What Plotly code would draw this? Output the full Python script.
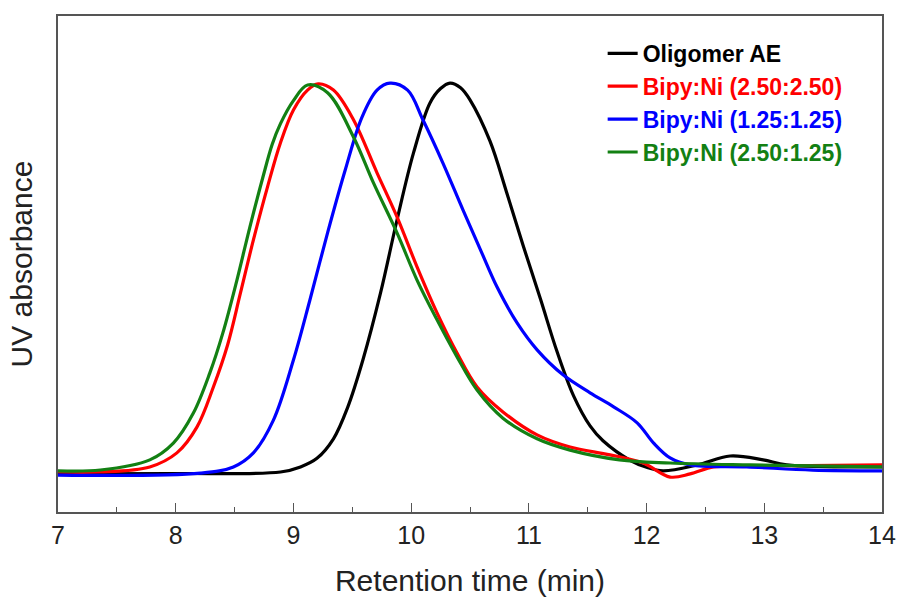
import plotly.graph_objects as go

# Retention time (min) and normalized UV absorbance
t_black = [7.0, 8.0, 8.89, 9.06, 9.20, 9.34, 9.46, 9.59, 9.74, 9.88, 10.02, 10.16, 10.25, 10.33,
           10.42, 10.50, 10.67, 10.81, 10.95, 11.10, 11.24, 11.38, 11.52, 11.63, 11.86, 12.0, 12.14,
           12.43, 12.71, 12.99, 13.19, 14.0]
a_black = [-0.005, -0.004, 0.0, 0.013, 0.035, 0.085, 0.165, 0.287, 0.459, 0.646, 0.818, 0.946,
           0.983, 0.997, 0.985, 0.954, 0.848, 0.718, 0.582, 0.442, 0.308, 0.195, 0.118, 0.080,
           0.030, 0.012, 0.003, 0.018, 0.041, 0.031, 0.018, 0.013]

t_red = [7.0, 7.36, 7.78, 8.01, 8.18, 8.32, 8.44, 8.55, 8.66, 8.78, 8.89, 9.00, 9.12, 9.21, 9.34, 9.51,
         9.71, 9.88, 10.05, 10.22, 10.39, 10.56, 10.78, 11.07, 11.35, 11.69, 11.97, 12.20, 12.37, 12.57,
         12.85, 14.0]
a_red = [0.0, 0.0, 0.013, 0.049, 0.115, 0.218, 0.325, 0.459, 0.595, 0.731, 0.844, 0.928, 0.979, 0.995,
         0.979, 0.903, 0.767, 0.654, 0.526, 0.408, 0.305, 0.218, 0.154, 0.095, 0.064, 0.044, 0.023, -0.013,
         -0.005, 0.013, 0.015, 0.018]

t_blue = [7.0, 8.21, 8.49, 8.66, 8.83, 9.00, 9.14, 9.29, 9.44, 9.58, 9.71, 9.82, 9.97, 10.10, 10.27,
          10.44, 10.59, 10.73, 10.90, 11.07, 11.29, 11.52, 11.72, 11.92, 12.06, 12.20, 12.37, 12.85,
          13.41, 14.0]
a_blue = [-0.008, -0.003, 0.013, 0.049, 0.133, 0.287, 0.441, 0.613, 0.774, 0.908, 0.979, 0.997, 0.979,
          0.903, 0.792, 0.672, 0.569, 0.474, 0.382, 0.313, 0.249, 0.203, 0.167, 0.126, 0.074, 0.036,
          0.018, 0.013, 0.005, 0.003]

t_green = [7.0, 7.36, 7.78, 7.98, 8.15, 8.29, 8.40, 8.52, 8.63, 8.74, 8.82, 8.89, 9.00, 9.12, 9.29,
           9.51, 9.68, 9.88, 10.05, 10.22, 10.39, 10.56, 10.78, 11.07, 11.35, 11.77, 12.20, 12.88, 14.0]
a_green = [0.003, 0.005, 0.031, 0.074, 0.151, 0.254, 0.356, 0.492, 0.628, 0.755, 0.840, 0.893, 0.952,
           0.992, 0.972, 0.859, 0.741, 0.613, 0.492, 0.390, 0.295, 0.210, 0.138, 0.085, 0.056,
           0.031, 0.023, 0.018, 0.013]

names = ["Oligomer AE", "Bipy:Ni (2.50:2.50)", "Bipy:Ni (1.25:1.25)", "Bipy:Ni (2.50:1.25)"]
colors = ["#000000", "#ff0000", "#0000ff", "#138013"]
series = [(t_black, a_black), (t_red, a_red), (t_blue, a_blue), (t_green, a_green)]
x_ticks = [7, 8, 9, 10, 11, 12, 13, 14]

fig = go.Figure()
for (tx, ay), nm, col in zip(series, names, colors):
    fig.add_trace(go.Scatter(
        x=tx, y=ay, mode="lines",
        name=f'<b><span style="color:{col}">{nm}</span></b>',
        line=dict(color=col, width=3.2, shape="spline", smoothing=1.0),
    ))

axis_col = "#555555"
fig.update_layout(
    width=898, height=597,
    margin=dict(l=58, r=16, t=16, b=85),
    paper_bgcolor="white", plot_bgcolor="white",
    font=dict(family="Arial, Liberation Sans, sans-serif", color="#222222"),
    showlegend=True,
    legend=dict(x=0.661, y=0.968, xanchor="left", yanchor="top",
                font=dict(size=23, family="Arial, Liberation Sans, sans-serif"),
                bgcolor="rgba(0,0,0,0)", itemwidth=30),
    xaxis=dict(range=[7, 14], tickvals=x_ticks, ticktext=[str(v) for v in x_ticks],
               ticks="inside", ticklen=9, tickwidth=1.2, tickcolor=axis_col,
               minor=dict(dtick=0.5, ticks="inside", ticklen=5, tickwidth=1.2, tickcolor=axis_col),
               showline=True, linecolor=axis_col, linewidth=1.5, mirror=True,
               showgrid=False, zeroline=False, automargin=False,
               tickfont=dict(size=25, color="#222222"),
               title=dict(text="Retention time (min)", font=dict(size=30, color="#222222"), standoff=22)),
    yaxis=dict(range=[-0.1026, 1.169], showticklabels=False, ticks="",
               showline=True, linecolor=axis_col, linewidth=1.5, mirror=True,
               showgrid=False, zeroline=False, automargin=False,
               title=dict(text="UV absorbance", font=dict(size=30, color="#222222"), standoff=15)),
)

fig.write_html("out.html", config={"displayModeBar": False},
               post_script="document.body.style.margin='0px';")
